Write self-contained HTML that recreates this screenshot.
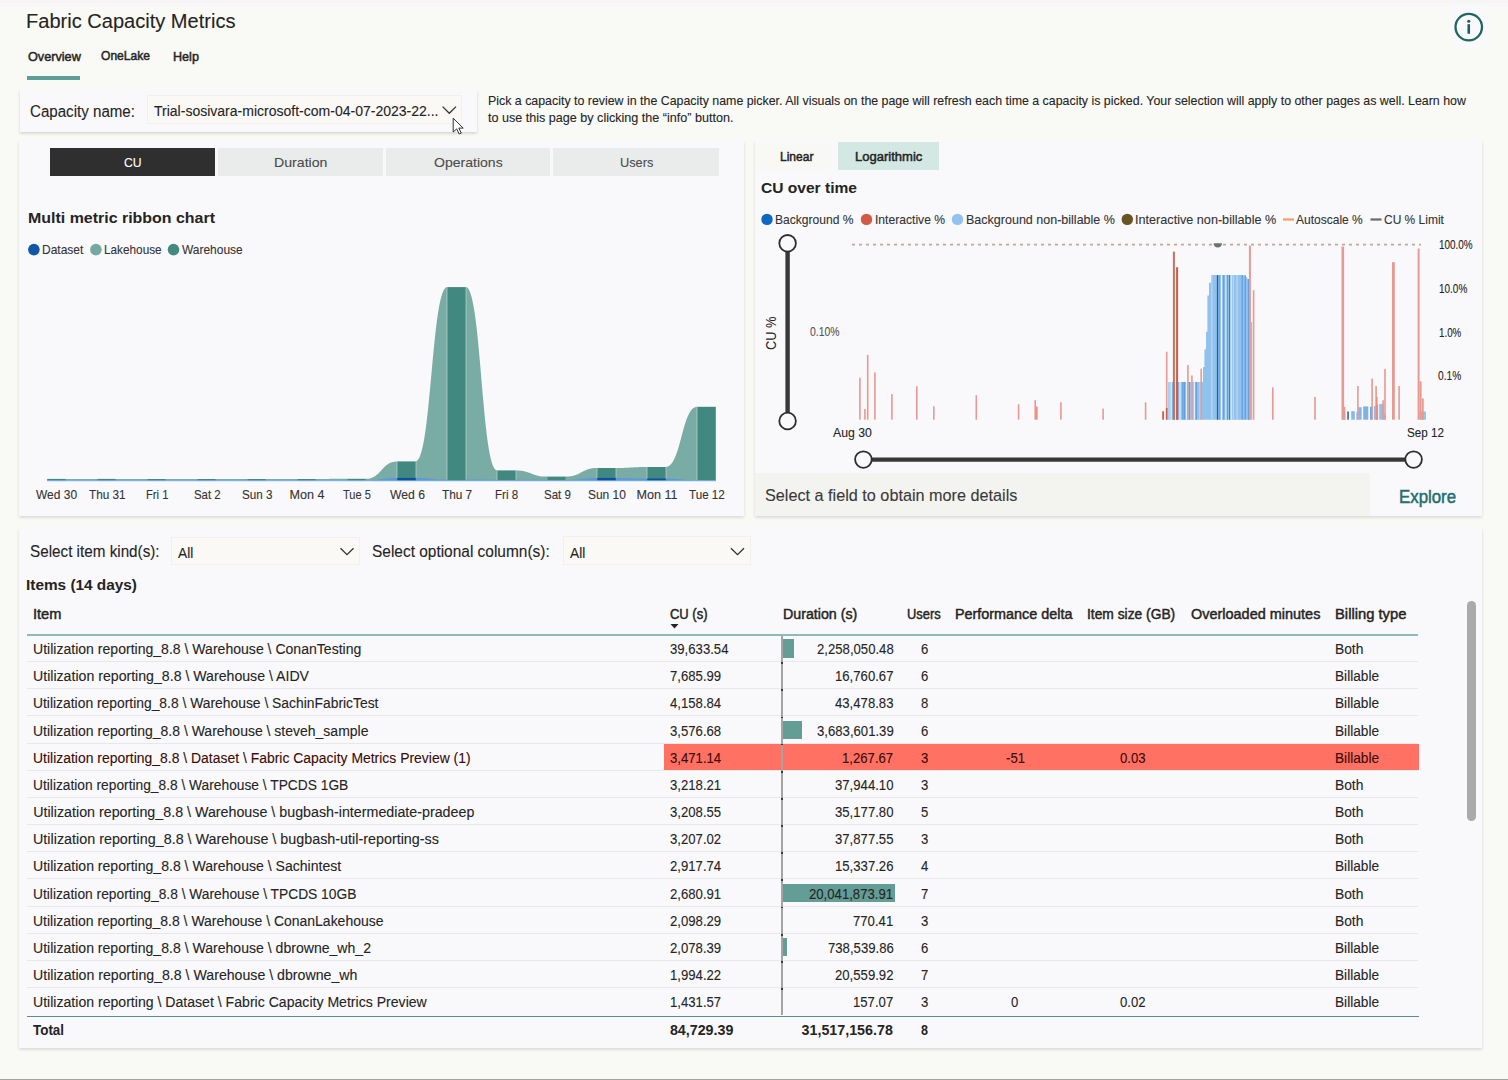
<!DOCTYPE html>
<html><head><meta charset="utf-8"><title>Fabric Capacity Metrics</title>
<style>
html,body{margin:0;padding:0;}
body{width:1508px;height:1080px;overflow:hidden;background:#f9f9f5;position:relative;font-family:"Liberation Sans",sans-serif;}
.t{position:absolute;white-space:nowrap;transform-origin:0 0;}
.r{position:absolute;}
svg.ov{position:absolute;left:0;top:0;}
</style></head><body>
<div class="r" style="left:0.00px;top:0.00px;width:1508.00px;height:3.30px;background:#f5f5f3;"></div>
<div class="r" style="left:0.00px;top:3.30px;width:1508.00px;height:4.20px;background:#f9f7f9;"></div>
<div class="r" style="left:27.00px;top:76.00px;width:53.00px;height:4.00px;background:#5f9d97;"></div>
<div class="r" style="left:1452.00px;top:5.00px;width:38.00px;height:42.00px;background:#f9f9fb;"></div>
<div class="r" style="left:19.50px;top:89.00px;width:457.50px;height:43.00px;background:#f9f9fb;box-shadow:0 1.5px 3px rgba(0,0,0,0.16);"></div>
<div class="r" style="left:147.00px;top:94.50px;width:315.00px;height:29.50px;background:#faf9f6;box-shadow:inset 0 0 0 1px #f1f0ed;"></div>
<div class="r" style="left:19.00px;top:140.00px;width:725.00px;height:376.00px;background:#f9f9fb;box-shadow:0 1.5px 3px rgba(0,0,0,0.14);"></div>
<div class="r" style="left:49.90px;top:147.60px;width:165.30px;height:28.40px;background:#2f2f2f;"></div>
<div class="r" style="left:217.70px;top:147.60px;width:165.30px;height:28.40px;background:#e9eceb;"></div>
<div class="r" style="left:385.60px;top:147.60px;width:164.80px;height:28.40px;background:#e9eceb;"></div>
<div class="r" style="left:553.40px;top:147.60px;width:165.30px;height:28.40px;background:#e9eceb;"></div>
<div class="r" style="left:754.50px;top:140.00px;width:727.50px;height:376.00px;background:#f9f9fb;box-shadow:0 1.5px 3px rgba(0,0,0,0.14);"></div>
<div class="r" style="left:756.00px;top:142.60px;width:74.60px;height:27.70px;background:#f8f8f4;"></div>
<div class="r" style="left:838.00px;top:142.30px;width:101.00px;height:28.00px;background:#d3e8e3;"></div>
<div class="r" style="left:754.70px;top:473.00px;width:615.30px;height:42.50px;background:#f3f3f0;"></div>
<div class="r" style="left:19.00px;top:526.50px;width:1463.00px;height:521.70px;background:#f9f9fb;box-shadow:0 1.5px 3px rgba(0,0,0,0.14);"></div>
<div class="r" style="left:171.00px;top:536.70px;width:189.30px;height:28.70px;background:#faf9f6;box-shadow:inset 0 0 0 1px #f1f0ed;"></div>
<div class="r" style="left:563.40px;top:536.40px;width:187.80px;height:28.90px;background:#faf9f6;box-shadow:inset 0 0 0 1px #f1f0ed;"></div>
<div class="r" style="left:26.70px;top:634.30px;width:1391.80px;height:1.80px;background:#8dbbb5;"></div>
<div class="r" style="left:26.70px;top:661.10px;width:1391.80px;height:1.00px;background:#e6e9e5;"></div>
<div class="r" style="left:782.50px;top:639.20px;width:11.80px;height:18.40px;background:#639d95;"></div>
<div class="r" style="left:26.70px;top:688.26px;width:1391.80px;height:1.00px;background:#e6e9e5;"></div>
<div class="r" style="left:26.70px;top:715.42px;width:1391.80px;height:1.00px;background:#e6e9e5;"></div>
<div class="r" style="left:26.70px;top:742.58px;width:1391.80px;height:1.00px;background:#e6e9e5;"></div>
<div class="r" style="left:782.50px;top:720.68px;width:19.50px;height:18.40px;background:#639d95;"></div>
<div class="r" style="left:664.00px;top:743.68px;width:754.80px;height:26.56px;background:#ff7163;"></div>
<div class="r" style="left:26.70px;top:769.74px;width:1391.80px;height:1.00px;background:#e6e9e5;"></div>
<div class="r" style="left:26.70px;top:796.90px;width:1391.80px;height:1.00px;background:#e6e9e5;"></div>
<div class="r" style="left:26.70px;top:824.06px;width:1391.80px;height:1.00px;background:#e6e9e5;"></div>
<div class="r" style="left:26.70px;top:851.22px;width:1391.80px;height:1.00px;background:#e6e9e5;"></div>
<div class="r" style="left:26.70px;top:878.38px;width:1391.80px;height:1.00px;background:#e6e9e5;"></div>
<div class="r" style="left:26.70px;top:905.54px;width:1391.80px;height:1.00px;background:#e6e9e5;"></div>
<div class="r" style="left:782.50px;top:883.64px;width:112.20px;height:18.40px;background:#639d95;"></div>
<div class="r" style="left:26.70px;top:932.70px;width:1391.80px;height:1.00px;background:#e6e9e5;"></div>
<div class="r" style="left:26.70px;top:959.86px;width:1391.80px;height:1.00px;background:#e6e9e5;"></div>
<div class="r" style="left:782.50px;top:937.96px;width:4.20px;height:18.40px;background:#639d95;"></div>
<div class="r" style="left:26.70px;top:987.02px;width:1391.80px;height:1.00px;background:#e6e9e5;"></div>
<div class="r" style="left:781.00px;top:636.10px;width:2.00px;height:379.40px;background:#a4a4a4;"></div>
<div class="r" style="left:781.00px;top:662.20px;width:2.00px;height:1.80px;background:#3a3a3a;"></div>
<div class="r" style="left:781.00px;top:689.36px;width:2.00px;height:1.80px;background:#3a3a3a;"></div>
<div class="r" style="left:781.00px;top:716.52px;width:2.00px;height:1.80px;background:#3a3a3a;"></div>
<div class="r" style="left:781.00px;top:743.68px;width:2.00px;height:1.80px;background:#3a3a3a;"></div>
<div class="r" style="left:781.00px;top:770.84px;width:2.00px;height:1.80px;background:#3a3a3a;"></div>
<div class="r" style="left:781.00px;top:798.00px;width:2.00px;height:1.80px;background:#3a3a3a;"></div>
<div class="r" style="left:781.00px;top:825.16px;width:2.00px;height:1.80px;background:#3a3a3a;"></div>
<div class="r" style="left:781.00px;top:852.32px;width:2.00px;height:1.80px;background:#3a3a3a;"></div>
<div class="r" style="left:781.00px;top:879.48px;width:2.00px;height:1.80px;background:#3a3a3a;"></div>
<div class="r" style="left:781.00px;top:906.64px;width:2.00px;height:1.80px;background:#3a3a3a;"></div>
<div class="r" style="left:781.00px;top:933.80px;width:2.00px;height:1.80px;background:#3a3a3a;"></div>
<div class="r" style="left:781.00px;top:960.96px;width:2.00px;height:1.80px;background:#3a3a3a;"></div>
<div class="r" style="left:781.00px;top:988.12px;width:2.00px;height:1.80px;background:#3a3a3a;"></div>
<div class="r" style="left:26.70px;top:1015.60px;width:1392.20px;height:1.50px;background:#5b8f89;"></div>
<div class="r" style="left:1467.10px;top:600.70px;width:8.90px;height:220.40px;background:#aaaaaa;border-radius:4.5px;"></div>
<div class="r" style="left:0.00px;top:1078.70px;width:1508.00px;height:1.30px;background:#a4a4a4;"></div>
<svg class="ov" width="1508" height="1080" viewBox="0 0 1508 1080">
<circle cx="1468.75" cy="27.1" r="13.25" fill="none" stroke="#21675f" stroke-width="2.3"/>
<rect x="1467.45" y="24.2" width="2.6" height="9.55" fill="#1d5f66"/><circle cx="1468.75" cy="21.25" r="1.6" fill="#1d5f66"/>
<polyline points="442.6,106.6 449.3,113.3 456,106.6" fill="none" stroke="#333" stroke-width="1.3"/>
<path d="M453.2,118.2 L453.2,132 L456.7,128.9 L459.2,134 L461.3,133.1 L458.8,128.1 L463.2,128.1 Z" fill="#fff" stroke="#1a1a1a" stroke-width="0.9" stroke-linejoin="round"/>
<circle cx="33.9" cy="249.6" r="5.8" fill="#0f58a8"/>
<circle cx="95.9" cy="249.6" r="5.8" fill="#74a9a2"/>
<circle cx="173.5" cy="249.6" r="5.8" fill="#438b81"/>
<path d="M65.8,478.9 C81.5,478.9 81.5,478.9 97.2,478.9 L97.2,480.6 L65.8,480.6 Z" fill="#79aca5"/>
<path d="M115.8,478.9 C131.5,478.9 131.5,479.0 147.2,479.0 L147.2,480.6 L115.8,480.6 Z" fill="#79aca5"/>
<path d="M165.8,479.0 C181.5,479.0 181.5,479.0 197.2,479.0 L197.2,480.6 L165.8,480.6 Z" fill="#79aca5"/>
<path d="M215.8,479.0 C231.5,479.0 231.5,479.0 247.2,479.0 L247.2,480.6 L215.8,480.6 Z" fill="#79aca5"/>
<path d="M265.8,479.0 C281.5,479.0 281.5,479.0 297.2,479.0 L297.2,480.6 L265.8,480.6 Z" fill="#79aca5"/>
<path d="M315.8,479.0 C331.5,479.0 331.5,478.8 347.2,478.8 L347.2,480.6 L315.8,480.6 Z" fill="#79aca5"/>
<path d="M365.8,478.8 C381.5,478.8 381.5,461.4 397.2,461.4 L397.2,480.6 L365.8,480.6 Z" fill="#79aca5"/>
<path d="M415.8,461.4 C431.5,461.4 431.5,287.1 447.2,287.1 L447.2,480.6 L415.8,480.6 Z" fill="#79aca5"/>
<path d="M465.8,287.1 C481.5,287.1 481.5,470.4 497.2,470.4 L497.2,480.6 L465.8,480.6 Z" fill="#79aca5"/>
<path d="M515.8,470.4 C531.5,470.4 531.5,476.6 547.2,476.6 L547.2,480.6 L515.8,480.6 Z" fill="#79aca5"/>
<path d="M565.8,476.6 C581.5,476.6 581.5,468.0 597.2,468.0 L597.2,480.6 L565.8,480.6 Z" fill="#79aca5"/>
<path d="M615.8,468.0 C631.5,468.0 631.5,467.0 647.2,467.0 L647.2,480.6 L615.8,480.6 Z" fill="#79aca5"/>
<path d="M665.8,467.0 C681.5,467.0 681.5,406.8 697.2,406.8 L697.2,480.6 L665.8,480.6 Z" fill="#79aca5"/>
<rect x="47.2" y="478.9" width="18.6" height="1.7" fill="#418880"/>
<rect x="97.2" y="478.9" width="18.6" height="1.7" fill="#418880"/>
<rect x="147.2" y="479.0" width="18.6" height="1.6" fill="#418880"/>
<rect x="197.2" y="479.0" width="18.6" height="1.6" fill="#418880"/>
<rect x="247.2" y="479.0" width="18.6" height="1.6" fill="#418880"/>
<rect x="297.2" y="479.0" width="18.6" height="1.6" fill="#418880"/>
<rect x="347.2" y="478.8" width="18.6" height="1.8" fill="#418880"/>
<rect x="397.2" y="461.4" width="18.6" height="19.2" fill="#418880"/>
<rect x="447.2" y="287.1" width="18.6" height="193.5" fill="#418880"/>
<rect x="497.2" y="470.4" width="18.6" height="10.2" fill="#418880"/>
<rect x="547.2" y="476.6" width="18.6" height="4.0" fill="#418880"/>
<rect x="597.2" y="468.0" width="18.6" height="12.6" fill="#418880"/>
<rect x="647.2" y="467.0" width="18.6" height="13.6" fill="#418880"/>
<rect x="697.2" y="406.8" width="18.6" height="73.8" fill="#418880"/>
<rect x="396.4" y="461.4" width="0.8" height="19.2" fill="#a3c4bf"/>
<rect x="415.8" y="461.4" width="0.8" height="19.2" fill="#a3c4bf"/>
<rect x="446.4" y="287.1" width="0.8" height="193.5" fill="#a3c4bf"/>
<rect x="465.8" y="287.1" width="0.8" height="193.5" fill="#a3c4bf"/>
<rect x="496.4" y="470.4" width="0.8" height="10.2" fill="#a3c4bf"/>
<rect x="515.8" y="470.4" width="0.8" height="10.2" fill="#a3c4bf"/>
<rect x="596.4" y="468.0" width="0.8" height="12.6" fill="#a3c4bf"/>
<rect x="615.8" y="468.0" width="0.8" height="12.6" fill="#a3c4bf"/>
<rect x="646.4" y="467.0" width="0.8" height="13.6" fill="#a3c4bf"/>
<rect x="665.8" y="467.0" width="0.8" height="13.6" fill="#a3c4bf"/>
<rect x="696.4" y="406.8" width="0.8" height="73.8" fill="#a3c4bf"/>
<path d="M365.8,480.2 C381.5,480.2 381.5,477.9 397.2,477.9 L397.2,480.6 L365.8,480.6 Z" fill="#5f98d6"/>
<path d="M415.8,477.9 C431.5,477.9 431.5,479.6 447.2,479.6 L447.2,480.6 L415.8,480.6 Z" fill="#5f98d6"/>
<path d="M465.8,479.6 C481.5,479.6 481.5,479.8 497.2,479.8 L497.2,480.6 L465.8,480.6 Z" fill="#5f98d6"/>
<path d="M515.8,479.8 C531.5,479.8 531.5,479.9 547.2,479.9 L547.2,480.6 L515.8,480.6 Z" fill="#5f98d6"/>
<path d="M565.8,479.9 C581.5,479.9 581.5,477.9 597.2,477.9 L597.2,480.6 L565.8,480.6 Z" fill="#5f98d6"/>
<path d="M615.8,477.9 C631.5,477.9 631.5,478.5 647.2,478.5 L647.2,480.6 L615.8,480.6 Z" fill="#5f98d6"/>
<path d="M665.8,478.5 C681.5,478.5 681.5,480.2 697.2,480.2 L697.2,480.6 L665.8,480.6 Z" fill="#5f98d6"/>
<rect x="397.2" y="477.9" width="18.6" height="2.7" fill="#0f4fa0"/>
<rect x="597.2" y="477.9" width="18.6" height="2.7" fill="#0f4fa0"/>
<rect x="647.2" y="478.5" width="18.6" height="2.1" fill="#0f4fa0"/>
<rect x="47" y="480.3" width="669" height="0.9" fill="#6aa5e0"/>
<circle cx="767.0" cy="219.4" r="5.7" fill="#0f67c4"/>
<circle cx="866.5" cy="219.4" r="5.7" fill="#d15b47"/>
<circle cx="957.5" cy="219.4" r="5.7" fill="#93c2ee"/>
<circle cx="1127.3" cy="219.4" r="5.7" fill="#6b5424"/>
<rect x="1283.0" y="218.4" width="11" height="2.2" fill="#f0a060"/>
<rect x="1370.5" y="218.4" width="11" height="2.2" fill="#6b6b6b"/>
<line x1="787.6" y1="243.3" x2="787.6" y2="421" stroke="#383838" stroke-width="4.4"/>
<circle cx="787.6" cy="243.3" r="8.3" fill="#f9f9fb" stroke="#2e2e2e" stroke-width="1.8"/>
<circle cx="787.6" cy="421" r="8.3" fill="#f9f9fb" stroke="#2e2e2e" stroke-width="1.8"/>
<line x1="863.4" y1="459.6" x2="1413.6" y2="459.6" stroke="#383838" stroke-width="4.4"/>
<circle cx="863.4" cy="459.6" r="8.3" fill="#f9f9fb" stroke="#2e2e2e" stroke-width="1.8"/>
<circle cx="1413.6" cy="459.6" r="8.3" fill="#f9f9fb" stroke="#2e2e2e" stroke-width="1.8"/>
<line x1="852" y1="244.7" x2="1421" y2="244.7" stroke="#c4a898" stroke-width="1.8" stroke-dasharray="3 4"/>
<path d="M1213.6,243.2 A4.2,4.3 0 0 0 1222,243.2 Z" fill="#707070"/>
<path d="M1168.1,419.7 L1168.1,382 L1203,382 L1203,367 L1204.4,367 L1204.4,349.4 L1206,349.4 L1206,331.7 L1207.4,331.7 L1207.4,295.4 L1209,295.4 L1209,282.8 L1211.1,282.8 L1211.1,275.1 L1243,275.1 L1245,276 L1247.4,278 L1247.4,279 L1249,279 L1249,296 L1250.7,296 L1250.7,322 L1252.1,322 L1252.1,419.7 Z" fill="#92c1ec"/>
<rect x="1168.59" y="382.0" width="1.2" height="37.7" fill="#b9d9f5"/>
<rect x="1170.51" y="382.0" width="1.2" height="37.7" fill="#e4f2fa"/>
<rect x="1172.73" y="382.0" width="1.2" height="37.7" fill="#5d9fe2"/>
<rect x="1174.96" y="382.0" width="1.2" height="37.7" fill="#e4f2fa"/>
<rect x="1176.88" y="382.0" width="1.2" height="37.7" fill="#2a78d0"/>
<rect x="1179.40" y="382.0" width="1.2" height="37.7" fill="#e4f2fa"/>
<rect x="1182.36" y="382.0" width="1.2" height="37.7" fill="#5d9fe2"/>
<rect x="1183.84" y="382.0" width="1.2" height="37.7" fill="#5d9fe2"/>
<rect x="1186.07" y="382.0" width="1.2" height="37.7" fill="#e4f2fa"/>
<rect x="1189.03" y="382.0" width="1.2" height="37.7" fill="#5d9fe2"/>
<rect x="1190.81" y="382.0" width="1.2" height="37.7" fill="#e4f2fa"/>
<rect x="1193.77" y="382.0" width="1.2" height="37.7" fill="#e4f2fa"/>
<rect x="1195.70" y="382.0" width="1.2" height="37.7" fill="#5d9fe2"/>
<rect x="1199.40" y="382.0" width="1.2" height="37.7" fill="#b9d9f5"/>
<rect x="1211.25" y="275.1" width="1.2" height="144.6" fill="#b9d9f5"/>
<rect x="1216.88" y="275.1" width="1.2" height="144.6" fill="#1a5fa8"/>
<rect x="1218.66" y="275.1" width="1.2" height="144.6" fill="#5d9fe2"/>
<rect x="1220.88" y="275.1" width="1.2" height="144.6" fill="#e4f2fa"/>
<rect x="1223.10" y="275.1" width="1.2" height="144.6" fill="#5d9fe2"/>
<rect x="1225.33" y="275.1" width="1.2" height="144.6" fill="#dcf5f3"/>
<rect x="1226.81" y="275.1" width="1.2" height="144.6" fill="#5d9fe2"/>
<rect x="1229.03" y="275.1" width="1.2" height="144.6" fill="#4a7a90"/>
<rect x="1230.51" y="275.1" width="1.2" height="144.6" fill="#dcf5f3"/>
<rect x="1232.73" y="275.1" width="1.2" height="144.6" fill="#b9d9f5"/>
<rect x="1236.44" y="275.1" width="1.2" height="144.6" fill="#b9d9f5"/>
<rect x="1241.62" y="275.1" width="1.2" height="144.6" fill="#5d9fe2"/>
<rect x="1244.59" y="275.1" width="1.2" height="144.6" fill="#5d9fe2"/>
<rect x="1247.99" y="279.0" width="1.2" height="140.7" fill="#5d9fe2"/>
<rect x="1249.77" y="296.0" width="1.2" height="123.7" fill="#b9d9f5"/>
<rect x="1342.0" y="411.5" width="3.3" height="8.2" fill="#7fb3e6"/>
<rect x="1347.1" y="411.5" width="1.9" height="8.2" fill="#4a80b8"/>
<rect x="1351.2" y="411.2" width="3.6" height="8.5" fill="#86b9ea"/>
<rect x="1356.3" y="412.0" width="1.7" height="7.7" fill="#92c1ec"/>
<rect x="1358.0" y="407.2" width="3.7" height="12.5" fill="#86b9ea"/>
<rect x="1363.2" y="406.4" width="5.1" height="13.3" fill="#7fb3e6"/>
<rect x="1370.1" y="406.8" width="2.2" height="12.9" fill="#5d9fe2"/>
<rect x="1373.8" y="406.0" width="2.2" height="13.7" fill="#92c1ec"/>
<rect x="1376.0" y="404.6" width="2.1" height="15.1" fill="#7fb3e6"/>
<rect x="1379.2" y="403.9" width="4.4" height="15.8" fill="#92c1ec"/>
<rect x="1383.6" y="414.0" width="2.2" height="5.7" fill="#92c1ec"/>
<rect x="1419.7" y="411.5" width="6.2" height="8.2" fill="#92c1ec"/>
<rect x="859.10" y="377.7" width="1.6" height="42.0" fill="#e69a92"/>
<rect x="864.10" y="409.0" width="1.6" height="10.7" fill="#e69a92"/>
<rect x="866.90" y="354.9" width="1.6" height="64.8" fill="#e69a92"/>
<rect x="874.10" y="372.4" width="1.6" height="47.3" fill="#e69a92"/>
<rect x="891.10" y="394.1" width="1.6" height="25.6" fill="#e69a92"/>
<rect x="916.00" y="386.2" width="1.6" height="33.5" fill="#e69a92"/>
<rect x="933.00" y="406.3" width="1.6" height="13.4" fill="#e69a92"/>
<rect x="975.50" y="395.2" width="1.6" height="24.5" fill="#e69a92"/>
<rect x="1017.80" y="404.2" width="1.6" height="15.5" fill="#e69a92"/>
<rect x="1034.40" y="400.2" width="1.6" height="19.5" fill="#e69a92"/>
<rect x="1036.00" y="406.5" width="1.6" height="13.2" fill="#f08878"/>
<rect x="1060.10" y="402.3" width="1.6" height="17.4" fill="#e69a92"/>
<rect x="1102.30" y="408.6" width="1.6" height="11.1" fill="#e69a92"/>
<rect x="1144.80" y="402.3" width="1.6" height="17.4" fill="#e69a92"/>
<rect x="1162.20" y="411.3" width="1.8" height="8.4" fill="#cf5a47"/>
<rect x="1165.90" y="351.7" width="1.6" height="68.0" fill="#e69a92"/>
<rect x="1165.90" y="408.0" width="1.6" height="11.7" fill="#cf5a47"/>
<rect x="1172.90" y="251.6" width="2.0" height="168.1" fill="#c8705e"/>
<rect x="1176.10" y="267.2" width="2.0" height="152.5" fill="#cf5a47"/>
<rect x="1187.10" y="365.0" width="1.6" height="54.7" fill="#e69a92"/>
<rect x="1191.10" y="375.4" width="1.6" height="44.3" fill="#e69a92"/>
<rect x="1200.40" y="368.7" width="1.6" height="51.0" fill="#e69a92"/>
<rect x="1248.90" y="245.6" width="2.0" height="174.1" fill="#e69a92"/>
<rect x="1252.80" y="290.2" width="1.6" height="129.5" fill="#e69a92"/>
<rect x="1272.00" y="387.4" width="1.6" height="32.3" fill="#e69a92"/>
<rect x="1314.20" y="396.9" width="1.6" height="22.8" fill="#e69a92"/>
<rect x="1341.50" y="246.6" width="2.6" height="173.1" fill="#e69a92"/>
<rect x="1343.90" y="406.8" width="1.4" height="12.9" fill="#e69a92"/>
<rect x="1357.10" y="386.0" width="1.6" height="33.7" fill="#e69a92"/>
<rect x="1371.30" y="378.7" width="1.6" height="41.0" fill="#e69a92"/>
<rect x="1375.30" y="386.0" width="1.6" height="33.7" fill="#e69a92"/>
<rect x="1376.10" y="397.0" width="1.4" height="22.7" fill="#f08878"/>
<rect x="1382.30" y="400.2" width="1.6" height="19.5" fill="#e69a92"/>
<rect x="1384.20" y="368.9" width="1.6" height="50.8" fill="#e69a92"/>
<rect x="1392.00" y="262.2" width="2.8" height="157.5" fill="#e69a92"/>
<rect x="1398.30" y="386.0" width="1.6" height="33.7" fill="#e69a92"/>
<rect x="1417.60" y="248.6" width="2.0" height="171.1" fill="#e69a92"/>
<rect x="1419.60" y="381.3" width="2.0" height="38.4" fill="#e69a92"/>
<rect x="1421.90" y="398.4" width="1.8" height="21.3" fill="#e69a92"/>
<polyline points="340.5,548.2 347,554.7 353.5,548.2" fill="none" stroke="#333" stroke-width="1.3"/>
<polyline points="731,548.2 737.5,554.7 744,548.2" fill="none" stroke="#333" stroke-width="1.3"/>
<polygon points="670.5,624 678.5,624 674.5,628.5" fill="#252423"/>
</svg>
<div class="t" style="left:26.00px;top:11.38px;font-size:20.58px;line-height:20.58px;color:#252423;transform:scaleX(0.9744);-webkit-text-stroke:0.10px #252423;">Fabric Capacity Metrics</div>
<div class="t" style="left:28.20px;top:50.42px;font-size:13.44px;line-height:13.44px;color:#252423;transform:scaleX(0.9427);-webkit-text-stroke:0.50px #252423;">Overview</div>
<div class="t" style="left:101.00px;top:49.12px;font-size:13.44px;line-height:13.44px;color:#252423;transform:scaleX(0.8983);-webkit-text-stroke:0.50px #252423;">OneLake</div>
<div class="t" style="left:173.30px;top:50.42px;font-size:13.44px;line-height:13.44px;color:#252423;transform:scaleX(0.9370);-webkit-text-stroke:0.50px #252423;">Help</div>
<div class="t" style="left:30.00px;top:103.76px;font-size:15.65px;line-height:15.65px;color:#252423;transform:scaleX(0.9660);-webkit-text-stroke:0.10px #252423;">Capacity name:</div>
<div class="t" style="left:154.00px;top:104.01px;font-size:14.28px;line-height:14.28px;color:#252423;transform:scaleX(0.9823);-webkit-text-stroke:0.10px #252423;">Trial-sosivara-microsoft-com-04-07-2023-22...</div>
<div class="t" style="left:487.80px;top:94.99px;font-size:12.18px;line-height:12.18px;color:#252423;transform:scaleX(1.0171);-webkit-text-stroke:0.10px #252423;">Pick a capacity to review in the Capacity name picker. All visuals on the page will refresh each time a capacity is picked. Your selection will apply to other pages as well. Learn how</div>
<div class="t" style="left:487.80px;top:112.09px;font-size:12.18px;line-height:12.18px;color:#252423;transform:scaleX(1.0335);-webkit-text-stroke:0.10px #252423;">to use this page by clicking the “info” button.</div>
<div class="t" style="left:123.80px;top:155.75px;font-size:13.65px;line-height:13.65px;color:#ffffff;transform:scaleX(0.8927);-webkit-text-stroke:0.10px #ffffff;">CU</div>
<div class="t" style="left:273.75px;top:155.75px;font-size:13.65px;line-height:13.65px;color:#4a4a4a;transform:scaleX(1.0369);-webkit-text-stroke:0.10px #4a4a4a;">Duration</div>
<div class="t" style="left:433.75px;top:155.75px;font-size:13.65px;line-height:13.65px;color:#4a4a4a;transform:scaleX(1.0289);-webkit-text-stroke:0.10px #4a4a4a;">Operations</div>
<div class="t" style="left:619.50px;top:155.75px;font-size:13.65px;line-height:13.65px;color:#4a4a4a;transform:scaleX(0.9370);-webkit-text-stroke:0.10px #4a4a4a;">Users</div>
<div class="t" style="left:28.00px;top:210.32px;font-size:15.33px;line-height:15.33px;color:#252423;font-weight:700;transform:scaleX(1.0405);">Multi metric ribbon chart</div>
<div class="t" style="left:42.30px;top:243.83px;font-size:12.60px;line-height:12.60px;color:#333333;transform:scaleX(0.9534);-webkit-text-stroke:0.10px #333333;">Dataset</div>
<div class="t" style="left:103.60px;top:243.83px;font-size:12.60px;line-height:12.60px;color:#333333;transform:scaleX(0.9359);-webkit-text-stroke:0.10px #333333;">Lakehouse</div>
<div class="t" style="left:182.00px;top:243.83px;font-size:12.60px;line-height:12.60px;color:#333333;transform:scaleX(0.9489);-webkit-text-stroke:0.10px #333333;">Warehouse</div>
<div class="t" style="left:36.45px;top:488.93px;font-size:12.60px;line-height:12.60px;color:#333333;transform:scaleX(0.9515);-webkit-text-stroke:0.10px #333333;">Wed 30</div>
<div class="t" style="left:88.70px;top:488.93px;font-size:12.60px;line-height:12.60px;color:#333333;transform:scaleX(0.9330);-webkit-text-stroke:0.10px #333333;">Thu 31</div>
<div class="t" style="left:145.75px;top:488.93px;font-size:12.60px;line-height:12.60px;color:#333333;transform:scaleX(0.8928);-webkit-text-stroke:0.10px #333333;">Fri 1</div>
<div class="t" style="left:193.65px;top:488.93px;font-size:12.60px;line-height:12.60px;color:#333333;transform:scaleX(0.9075);-webkit-text-stroke:0.10px #333333;">Sat 2</div>
<div class="t" style="left:241.75px;top:488.93px;font-size:12.60px;line-height:12.60px;color:#333333;transform:scaleX(0.9263);-webkit-text-stroke:0.10px #333333;">Sun 3</div>
<div class="t" style="left:289.50px;top:488.93px;font-size:12.60px;line-height:12.60px;color:#333333;-webkit-text-stroke:0.10px #333333;">Mon 4</div>
<div class="t" style="left:343.10px;top:488.93px;font-size:12.60px;line-height:12.60px;color:#333333;transform:scaleX(0.8755);-webkit-text-stroke:0.10px #333333;">Tue 5</div>
<div class="t" style="left:389.50px;top:488.93px;font-size:12.60px;line-height:12.60px;color:#333333;transform:scaleX(0.9672);-webkit-text-stroke:0.10px #333333;">Wed 6</div>
<div class="t" style="left:441.90px;top:488.93px;font-size:12.60px;line-height:12.60px;color:#333333;transform:scaleX(0.9373);-webkit-text-stroke:0.10px #333333;">Thu 7</div>
<div class="t" style="left:495.40px;top:488.93px;font-size:12.60px;line-height:12.60px;color:#333333;transform:scaleX(0.9206);-webkit-text-stroke:0.10px #333333;">Fri 8</div>
<div class="t" style="left:543.55px;top:488.93px;font-size:12.60px;line-height:12.60px;color:#333333;transform:scaleX(0.9143);-webkit-text-stroke:0.10px #333333;">Sat 9</div>
<div class="t" style="left:588.05px;top:488.93px;font-size:12.60px;line-height:12.60px;color:#333333;transform:scaleX(0.9490);-webkit-text-stroke:0.10px #333333;">Sun 10</div>
<div class="t" style="left:636.50px;top:488.93px;font-size:12.60px;line-height:12.60px;color:#333333;-webkit-text-stroke:0.10px #333333;">Mon 11</div>
<div class="t" style="left:689.10px;top:488.93px;font-size:12.60px;line-height:12.60px;color:#333333;transform:scaleX(0.9236);-webkit-text-stroke:0.10px #333333;">Tue 12</div>
<div class="t" style="left:779.50px;top:150.30px;font-size:13.23px;line-height:13.23px;color:#252423;transform:scaleX(0.9109);-webkit-text-stroke:0.50px #252423;">Linear</div>
<div class="t" style="left:854.60px;top:150.30px;font-size:13.23px;line-height:13.23px;color:#252423;transform:scaleX(0.9856);-webkit-text-stroke:0.50px #252423;">Logarithmic</div>
<div class="t" style="left:761.30px;top:180.98px;font-size:14.91px;line-height:14.91px;color:#252423;font-weight:700;transform:scaleX(1.0438);">CU over time</div>
<div class="t" style="left:775.20px;top:214.13px;font-size:12.60px;line-height:12.60px;color:#333333;transform:scaleX(0.9591);-webkit-text-stroke:0.10px #333333;">Background %</div>
<div class="t" style="left:874.70px;top:214.13px;font-size:12.60px;line-height:12.60px;color:#333333;transform:scaleX(0.9625);-webkit-text-stroke:0.10px #333333;">Interactive %</div>
<div class="t" style="left:966.00px;top:214.13px;font-size:12.60px;line-height:12.60px;color:#333333;transform:scaleX(0.9940);-webkit-text-stroke:0.10px #333333;">Background non-billable %</div>
<div class="t" style="left:1135.00px;top:214.13px;font-size:12.60px;line-height:12.60px;color:#333333;transform:scaleX(1.0037);-webkit-text-stroke:0.10px #333333;">Interactive non-billable %</div>
<div class="t" style="left:1296.40px;top:214.13px;font-size:12.60px;line-height:12.60px;color:#333333;transform:scaleX(0.9538);-webkit-text-stroke:0.10px #333333;">Autoscale %</div>
<div class="t" style="left:1384.00px;top:214.13px;font-size:12.60px;line-height:12.60px;color:#333333;transform:scaleX(0.9507);-webkit-text-stroke:0.10px #333333;">CU % Limit</div>
<div class="t" style="left:764.20px;top:349.60px;font-size:14.5px;line-height:14.5px;color:#252423;transform:rotate(-90deg) scaleX(0.8847);transform-origin:0 0;">CU %</div>
<div class="t" style="left:809.90px;top:325.98px;font-size:12.08px;line-height:12.08px;color:#555555;transform:scaleX(0.8616);-webkit-text-stroke:0.10px #555555;">0.10%</div>
<div class="t" style="left:832.60px;top:427.43px;font-size:12.60px;line-height:12.60px;color:#252423;transform:scaleX(0.9716);-webkit-text-stroke:0.10px #252423;">Aug 30</div>
<div class="t" style="left:1406.70px;top:427.43px;font-size:12.60px;line-height:12.60px;color:#252423;transform:scaleX(0.9265);-webkit-text-stroke:0.10px #252423;">Sep 12</div>
<div class="t" style="left:1438.70px;top:239.76px;font-size:11.87px;line-height:11.87px;color:#252423;transform:scaleX(0.8374);-webkit-text-stroke:0.10px #252423;">100.0%</div>
<div class="t" style="left:1438.70px;top:283.96px;font-size:11.87px;line-height:11.87px;color:#252423;transform:scaleX(0.8412);-webkit-text-stroke:0.10px #252423;">10.0%</div>
<div class="t" style="left:1438.70px;top:327.96px;font-size:11.87px;line-height:11.87px;color:#252423;transform:scaleX(0.8246);-webkit-text-stroke:0.10px #252423;">1.0%</div>
<div class="t" style="left:1437.80px;top:371.46px;font-size:11.87px;line-height:11.87px;color:#252423;transform:scaleX(0.8579);-webkit-text-stroke:0.10px #252423;">0.1%</div>
<div class="t" style="left:764.70px;top:488.09px;font-size:15.96px;line-height:15.96px;color:#3b3a39;transform:scaleX(1.0164);-webkit-text-stroke:0.10px #3b3a39;">Select a field to obtain more details</div>
<div class="t" style="left:1398.80px;top:488.69px;font-size:17.85px;line-height:17.85px;color:#236e70;transform:scaleX(0.9434);-webkit-text-stroke:0.50px #236e70;">Explore</div>
<div class="t" style="left:30.10px;top:544.17px;font-size:15.75px;line-height:15.75px;color:#252423;transform:scaleX(0.9678);-webkit-text-stroke:0.10px #252423;">Select item kind(s):</div>
<div class="t" style="left:178.30px;top:545.56px;font-size:14.70px;line-height:14.70px;color:#252423;transform:scaleX(0.9365);-webkit-text-stroke:0.10px #252423;">All</div>
<div class="t" style="left:372.00px;top:544.17px;font-size:15.75px;line-height:15.75px;color:#252423;transform:scaleX(0.9806);-webkit-text-stroke:0.10px #252423;">Select optional column(s):</div>
<div class="t" style="left:570.00px;top:545.56px;font-size:14.70px;line-height:14.70px;color:#252423;transform:scaleX(0.9365);-webkit-text-stroke:0.10px #252423;">All</div>
<div class="t" style="left:26.00px;top:578.05px;font-size:14.60px;line-height:14.60px;color:#252423;font-weight:700;transform:scaleX(1.0525);">Items (14 days)</div>
<div class="t" style="left:32.60px;top:607.00px;font-size:14.18px;line-height:14.18px;color:#252423;transform:scaleX(1.0302);-webkit-text-stroke:0.45px #252423;">Item</div>
<div class="t" style="left:669.80px;top:607.00px;font-size:14.18px;line-height:14.18px;color:#252423;transform:scaleX(0.9159);-webkit-text-stroke:0.45px #252423;">CU (s)</div>
<div class="t" style="left:782.50px;top:607.00px;font-size:14.18px;line-height:14.18px;color:#252423;transform:scaleX(1.0034);-webkit-text-stroke:0.45px #252423;">Duration (s)</div>
<div class="t" style="left:906.60px;top:607.00px;font-size:14.18px;line-height:14.18px;color:#252423;transform:scaleX(0.9104);-webkit-text-stroke:0.45px #252423;">Users</div>
<div class="t" style="left:954.60px;top:607.00px;font-size:14.18px;line-height:14.18px;color:#252423;transform:scaleX(1.0136);-webkit-text-stroke:0.45px #252423;">Performance delta</div>
<div class="t" style="left:1087.00px;top:607.00px;font-size:14.18px;line-height:14.18px;color:#252423;transform:scaleX(0.9738);-webkit-text-stroke:0.45px #252423;">Item size (GB)</div>
<div class="t" style="left:1191.00px;top:607.00px;font-size:14.18px;line-height:14.18px;color:#252423;transform:scaleX(1.0200);-webkit-text-stroke:0.45px #252423;">Overloaded minutes</div>
<div class="t" style="left:1334.60px;top:607.00px;font-size:14.18px;line-height:14.18px;color:#252423;transform:scaleX(1.0416);-webkit-text-stroke:0.45px #252423;">Billing type</div>
<div class="t" style="left:33.20px;top:642.11px;font-size:14.28px;line-height:14.28px;color:#252423;transform:scaleX(0.9851);-webkit-text-stroke:0.10px #252423;">Utilization reporting_8.8 \ Warehouse \ ConanTesting</div>
<div class="t" style="left:670.30px;top:642.11px;font-size:14.28px;line-height:14.28px;color:#252423;transform:scaleX(0.9210);-webkit-text-stroke:0.10px #252423;">39,633.54</div>
<div class="t" style="left:816.71px;top:642.11px;font-size:14.28px;line-height:14.28px;color:#252423;transform:scaleX(0.9210);-webkit-text-stroke:0.10px #252423;">2,258,050.48</div>
<div class="t" style="left:921.00px;top:642.11px;font-size:14.28px;line-height:14.28px;color:#252423;transform:scaleX(0.9210);-webkit-text-stroke:0.10px #252423;">6</div>
<div class="t" style="left:1334.60px;top:642.11px;font-size:14.28px;line-height:14.28px;color:#252423;transform:scaleX(0.9668);-webkit-text-stroke:0.10px #252423;">Both</div>
<div class="t" style="left:33.20px;top:669.27px;font-size:14.28px;line-height:14.28px;color:#252423;transform:scaleX(0.9908);-webkit-text-stroke:0.10px #252423;">Utilization reporting_8.8 \ Warehouse \ AIDV</div>
<div class="t" style="left:670.30px;top:669.27px;font-size:14.28px;line-height:14.28px;color:#252423;transform:scaleX(0.9210);-webkit-text-stroke:0.10px #252423;">7,685.99</div>
<div class="t" style="left:834.99px;top:669.27px;font-size:14.28px;line-height:14.28px;color:#252423;transform:scaleX(0.9210);-webkit-text-stroke:0.10px #252423;">16,760.67</div>
<div class="t" style="left:921.00px;top:669.27px;font-size:14.28px;line-height:14.28px;color:#252423;transform:scaleX(0.9210);-webkit-text-stroke:0.10px #252423;">6</div>
<div class="t" style="left:1334.60px;top:669.27px;font-size:14.28px;line-height:14.28px;color:#252423;transform:scaleX(0.9578);-webkit-text-stroke:0.10px #252423;">Billable</div>
<div class="t" style="left:33.20px;top:696.43px;font-size:14.28px;line-height:14.28px;color:#252423;transform:scaleX(0.9717);-webkit-text-stroke:0.10px #252423;">Utilization reporting_8.8 \ Warehouse \ SachinFabricTest</div>
<div class="t" style="left:670.30px;top:696.43px;font-size:14.28px;line-height:14.28px;color:#252423;transform:scaleX(0.9210);-webkit-text-stroke:0.10px #252423;">4,158.84</div>
<div class="t" style="left:834.99px;top:696.43px;font-size:14.28px;line-height:14.28px;color:#252423;transform:scaleX(0.9210);-webkit-text-stroke:0.10px #252423;">43,478.83</div>
<div class="t" style="left:921.00px;top:696.43px;font-size:14.28px;line-height:14.28px;color:#252423;transform:scaleX(0.9210);-webkit-text-stroke:0.10px #252423;">8</div>
<div class="t" style="left:1334.60px;top:696.43px;font-size:14.28px;line-height:14.28px;color:#252423;transform:scaleX(0.9578);-webkit-text-stroke:0.10px #252423;">Billable</div>
<div class="t" style="left:33.20px;top:723.59px;font-size:14.28px;line-height:14.28px;color:#252423;transform:scaleX(0.9808);-webkit-text-stroke:0.10px #252423;">Utilization reporting_8.8 \ Warehouse \ steveh_sample</div>
<div class="t" style="left:670.30px;top:723.59px;font-size:14.28px;line-height:14.28px;color:#252423;transform:scaleX(0.9210);-webkit-text-stroke:0.10px #252423;">3,576.68</div>
<div class="t" style="left:816.71px;top:723.59px;font-size:14.28px;line-height:14.28px;color:#252423;transform:scaleX(0.9210);-webkit-text-stroke:0.10px #252423;">3,683,601.39</div>
<div class="t" style="left:921.00px;top:723.59px;font-size:14.28px;line-height:14.28px;color:#252423;transform:scaleX(0.9210);-webkit-text-stroke:0.10px #252423;">6</div>
<div class="t" style="left:1334.60px;top:723.59px;font-size:14.28px;line-height:14.28px;color:#252423;transform:scaleX(0.9578);-webkit-text-stroke:0.10px #252423;">Billable</div>
<div class="t" style="left:33.20px;top:750.75px;font-size:14.28px;line-height:14.28px;color:#3a0a05;transform:scaleX(0.9770);-webkit-text-stroke:0.10px #3a0a05;">Utilization reporting_8.8 \ Dataset \ Fabric Capacity Metrics Preview (1)</div>
<div class="t" style="left:670.30px;top:750.75px;font-size:14.28px;line-height:14.28px;color:#3a0a05;transform:scaleX(0.9210);-webkit-text-stroke:0.10px #3a0a05;">3,471.14</div>
<div class="t" style="left:842.31px;top:750.75px;font-size:14.28px;line-height:14.28px;color:#3a0a05;transform:scaleX(0.9210);-webkit-text-stroke:0.10px #3a0a05;">1,267.67</div>
<div class="t" style="left:921.00px;top:750.75px;font-size:14.28px;line-height:14.28px;color:#3a0a05;transform:scaleX(0.9210);-webkit-text-stroke:0.10px #3a0a05;">3</div>
<div class="t" style="left:1005.50px;top:750.75px;font-size:14.28px;line-height:14.28px;color:#3a0a05;transform:scaleX(0.9210);-webkit-text-stroke:0.10px #3a0a05;">-51</div>
<div class="t" style="left:1120.20px;top:750.75px;font-size:14.28px;line-height:14.28px;color:#3a0a05;transform:scaleX(0.9210);-webkit-text-stroke:0.10px #3a0a05;">0.03</div>
<div class="t" style="left:1334.60px;top:750.75px;font-size:14.28px;line-height:14.28px;color:#3a0a05;transform:scaleX(0.9578);-webkit-text-stroke:0.10px #3a0a05;">Billable</div>
<div class="t" style="left:33.20px;top:777.91px;font-size:14.28px;line-height:14.28px;color:#252423;transform:scaleX(0.9651);-webkit-text-stroke:0.10px #252423;">Utilization reporting_8.8 \ Warehouse \ TPCDS 1GB</div>
<div class="t" style="left:670.30px;top:777.91px;font-size:14.28px;line-height:14.28px;color:#252423;transform:scaleX(0.9210);-webkit-text-stroke:0.10px #252423;">3,218.21</div>
<div class="t" style="left:834.99px;top:777.91px;font-size:14.28px;line-height:14.28px;color:#252423;transform:scaleX(0.9210);-webkit-text-stroke:0.10px #252423;">37,944.10</div>
<div class="t" style="left:921.00px;top:777.91px;font-size:14.28px;line-height:14.28px;color:#252423;transform:scaleX(0.9210);-webkit-text-stroke:0.10px #252423;">3</div>
<div class="t" style="left:1334.60px;top:777.91px;font-size:14.28px;line-height:14.28px;color:#252423;transform:scaleX(0.9668);-webkit-text-stroke:0.10px #252423;">Both</div>
<div class="t" style="left:33.20px;top:805.07px;font-size:14.28px;line-height:14.28px;color:#252423;-webkit-text-stroke:0.10px #252423;">Utilization reporting_8.8 \ Warehouse \ bugbash-intermediate-pradeep</div>
<div class="t" style="left:670.30px;top:805.07px;font-size:14.28px;line-height:14.28px;color:#252423;transform:scaleX(0.9210);-webkit-text-stroke:0.10px #252423;">3,208.55</div>
<div class="t" style="left:834.99px;top:805.07px;font-size:14.28px;line-height:14.28px;color:#252423;transform:scaleX(0.9210);-webkit-text-stroke:0.10px #252423;">35,177.80</div>
<div class="t" style="left:921.00px;top:805.07px;font-size:14.28px;line-height:14.28px;color:#252423;transform:scaleX(0.9210);-webkit-text-stroke:0.10px #252423;">5</div>
<div class="t" style="left:1334.60px;top:805.07px;font-size:14.28px;line-height:14.28px;color:#252423;transform:scaleX(0.9668);-webkit-text-stroke:0.10px #252423;">Both</div>
<div class="t" style="left:33.20px;top:832.23px;font-size:14.28px;line-height:14.28px;color:#252423;transform:scaleX(1.0050);-webkit-text-stroke:0.10px #252423;">Utilization reporting_8.8 \ Warehouse \ bugbash-util-reporting-ss</div>
<div class="t" style="left:670.30px;top:832.23px;font-size:14.28px;line-height:14.28px;color:#252423;transform:scaleX(0.9210);-webkit-text-stroke:0.10px #252423;">3,207.02</div>
<div class="t" style="left:834.99px;top:832.23px;font-size:14.28px;line-height:14.28px;color:#252423;transform:scaleX(0.9210);-webkit-text-stroke:0.10px #252423;">37,877.55</div>
<div class="t" style="left:921.00px;top:832.23px;font-size:14.28px;line-height:14.28px;color:#252423;transform:scaleX(0.9210);-webkit-text-stroke:0.10px #252423;">3</div>
<div class="t" style="left:1334.60px;top:832.23px;font-size:14.28px;line-height:14.28px;color:#252423;transform:scaleX(0.9668);-webkit-text-stroke:0.10px #252423;">Both</div>
<div class="t" style="left:33.20px;top:859.39px;font-size:14.28px;line-height:14.28px;color:#252423;transform:scaleX(0.9856);-webkit-text-stroke:0.10px #252423;">Utilization reporting_8.8 \ Warehouse \ Sachintest</div>
<div class="t" style="left:670.30px;top:859.39px;font-size:14.28px;line-height:14.28px;color:#252423;transform:scaleX(0.9210);-webkit-text-stroke:0.10px #252423;">2,917.74</div>
<div class="t" style="left:834.99px;top:859.39px;font-size:14.28px;line-height:14.28px;color:#252423;transform:scaleX(0.9210);-webkit-text-stroke:0.10px #252423;">15,337.26</div>
<div class="t" style="left:921.00px;top:859.39px;font-size:14.28px;line-height:14.28px;color:#252423;transform:scaleX(0.9210);-webkit-text-stroke:0.10px #252423;">4</div>
<div class="t" style="left:1334.60px;top:859.39px;font-size:14.28px;line-height:14.28px;color:#252423;transform:scaleX(0.9578);-webkit-text-stroke:0.10px #252423;">Billable</div>
<div class="t" style="left:33.20px;top:886.55px;font-size:14.28px;line-height:14.28px;color:#252423;transform:scaleX(0.9664);-webkit-text-stroke:0.10px #252423;">Utilization reporting_8.8 \ Warehouse \ TPCDS 10GB</div>
<div class="t" style="left:670.30px;top:886.55px;font-size:14.28px;line-height:14.28px;color:#252423;transform:scaleX(0.9210);-webkit-text-stroke:0.10px #252423;">2,680.91</div>
<div class="t" style="left:809.40px;top:886.55px;font-size:14.28px;line-height:14.28px;color:#252423;transform:scaleX(0.9210);-webkit-text-stroke:0.10px #252423;">20,041,873.91</div>
<div class="t" style="left:921.00px;top:886.55px;font-size:14.28px;line-height:14.28px;color:#252423;transform:scaleX(0.9210);-webkit-text-stroke:0.10px #252423;">7</div>
<div class="t" style="left:1334.60px;top:886.55px;font-size:14.28px;line-height:14.28px;color:#252423;transform:scaleX(0.9668);-webkit-text-stroke:0.10px #252423;">Both</div>
<div class="t" style="left:33.20px;top:913.71px;font-size:14.28px;line-height:14.28px;color:#252423;transform:scaleX(0.9791);-webkit-text-stroke:0.10px #252423;">Utilization reporting_8.8 \ Warehouse \ ConanLakehouse</div>
<div class="t" style="left:670.30px;top:913.71px;font-size:14.28px;line-height:14.28px;color:#252423;transform:scaleX(0.9210);-webkit-text-stroke:0.10px #252423;">2,098.29</div>
<div class="t" style="left:853.27px;top:913.71px;font-size:14.28px;line-height:14.28px;color:#252423;transform:scaleX(0.9210);-webkit-text-stroke:0.10px #252423;">770.41</div>
<div class="t" style="left:921.00px;top:913.71px;font-size:14.28px;line-height:14.28px;color:#252423;transform:scaleX(0.9210);-webkit-text-stroke:0.10px #252423;">3</div>
<div class="t" style="left:1334.60px;top:913.71px;font-size:14.28px;line-height:14.28px;color:#252423;transform:scaleX(0.9668);-webkit-text-stroke:0.10px #252423;">Both</div>
<div class="t" style="left:33.20px;top:940.87px;font-size:14.28px;line-height:14.28px;color:#252423;transform:scaleX(0.9858);-webkit-text-stroke:0.10px #252423;">Utilization reporting_8.8 \ Warehouse \ dbrowne_wh_2</div>
<div class="t" style="left:670.30px;top:940.87px;font-size:14.28px;line-height:14.28px;color:#252423;transform:scaleX(0.9210);-webkit-text-stroke:0.10px #252423;">2,078.39</div>
<div class="t" style="left:827.68px;top:940.87px;font-size:14.28px;line-height:14.28px;color:#252423;transform:scaleX(0.9210);-webkit-text-stroke:0.10px #252423;">738,539.86</div>
<div class="t" style="left:921.00px;top:940.87px;font-size:14.28px;line-height:14.28px;color:#252423;transform:scaleX(0.9210);-webkit-text-stroke:0.10px #252423;">6</div>
<div class="t" style="left:1334.60px;top:940.87px;font-size:14.28px;line-height:14.28px;color:#252423;transform:scaleX(0.9578);-webkit-text-stroke:0.10px #252423;">Billable</div>
<div class="t" style="left:33.20px;top:968.03px;font-size:14.28px;line-height:14.28px;color:#252423;transform:scaleX(0.9920);-webkit-text-stroke:0.10px #252423;">Utilization reporting_8.8 \ Warehouse \ dbrowne_wh</div>
<div class="t" style="left:670.30px;top:968.03px;font-size:14.28px;line-height:14.28px;color:#252423;transform:scaleX(0.9210);-webkit-text-stroke:0.10px #252423;">1,994.22</div>
<div class="t" style="left:834.99px;top:968.03px;font-size:14.28px;line-height:14.28px;color:#252423;transform:scaleX(0.9210);-webkit-text-stroke:0.10px #252423;">20,559.92</div>
<div class="t" style="left:921.00px;top:968.03px;font-size:14.28px;line-height:14.28px;color:#252423;transform:scaleX(0.9210);-webkit-text-stroke:0.10px #252423;">7</div>
<div class="t" style="left:1334.60px;top:968.03px;font-size:14.28px;line-height:14.28px;color:#252423;transform:scaleX(0.9578);-webkit-text-stroke:0.10px #252423;">Billable</div>
<div class="t" style="left:33.20px;top:995.19px;font-size:14.28px;line-height:14.28px;color:#252423;transform:scaleX(0.9875);-webkit-text-stroke:0.10px #252423;">Utilization reporting \ Dataset \ Fabric Capacity Metrics Preview</div>
<div class="t" style="left:670.30px;top:995.19px;font-size:14.28px;line-height:14.28px;color:#252423;transform:scaleX(0.9210);-webkit-text-stroke:0.10px #252423;">1,431.57</div>
<div class="t" style="left:853.27px;top:995.19px;font-size:14.28px;line-height:14.28px;color:#252423;transform:scaleX(0.9210);-webkit-text-stroke:0.10px #252423;">157.07</div>
<div class="t" style="left:921.00px;top:995.19px;font-size:14.28px;line-height:14.28px;color:#252423;transform:scaleX(0.9210);-webkit-text-stroke:0.10px #252423;">3</div>
<div class="t" style="left:1011.34px;top:995.19px;font-size:14.28px;line-height:14.28px;color:#252423;transform:scaleX(0.9210);-webkit-text-stroke:0.10px #252423;">0</div>
<div class="t" style="left:1120.20px;top:995.19px;font-size:14.28px;line-height:14.28px;color:#252423;transform:scaleX(0.9210);-webkit-text-stroke:0.10px #252423;">0.02</div>
<div class="t" style="left:1334.60px;top:995.19px;font-size:14.28px;line-height:14.28px;color:#252423;transform:scaleX(0.9578);-webkit-text-stroke:0.10px #252423;">Billable</div>
<div class="t" style="left:33.20px;top:1023.21px;font-size:14.28px;line-height:14.28px;color:#252423;font-weight:700;transform:scaleX(0.9410);">Total</div>
<div class="t" style="left:669.90px;top:1023.21px;font-size:14.28px;line-height:14.28px;color:#252423;font-weight:700;">84,729.39</div>
<div class="t" style="left:801.60px;top:1023.21px;font-size:14.28px;line-height:14.28px;color:#252423;font-weight:700;">31,517,156.78</div>
<div class="t" style="left:920.50px;top:1023.21px;font-size:14.28px;line-height:14.28px;color:#252423;font-weight:700;transform:scaleX(0.8814);">8</div>
</body></html>
